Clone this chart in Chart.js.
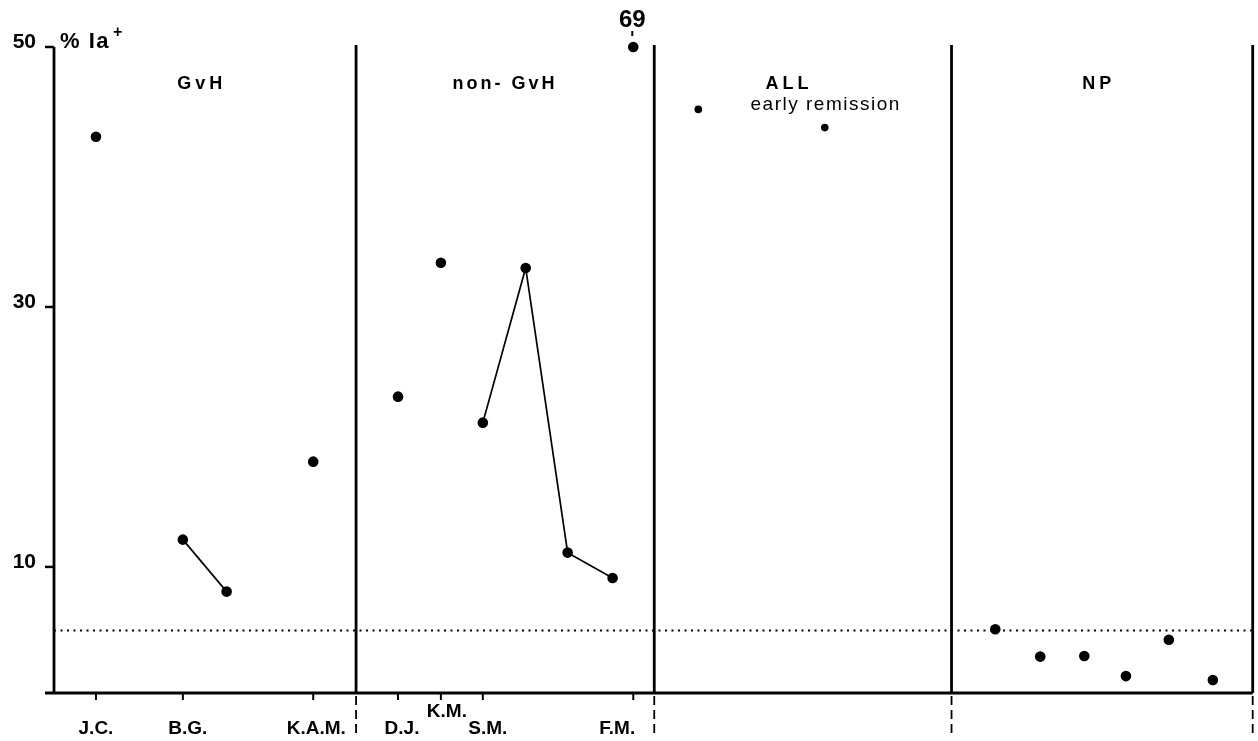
<!DOCTYPE html>
<html>
<head>
<meta charset="utf-8">
<script src="https://cdn.jsdelivr.net/npm/chart.js@4"></script>
<style>
  html, body { margin: 0; padding: 0; background: #fff; }
  canvas { display: block; }
</style>
</head>
<body>
<canvas id="chart" width="1258" height="741"></canvas>
<script>
// patients in the GvH and non-GvH groups, x is in panel units (one panel = 1)
const patients = ['J.C.', 'B.G.', 'K.A.M.', 'D.J.', 'K.M.', 'S.M.', 'F.M.'];
const patientX = [[0.14], [0.43, 0.576], [0.865], [1.148], [1.291], [1.431, 1.574, 1.714, 1.864], [1.933]];
const patientY = [[43.1], [12.1, 8.1], [18.1], [23.1], [33.4], [21.1, 33.0, 11.1, 9.15], [50]];
const offScaleLabel = '69';   // F.M. real value, drawn at the top

const allX = [2.15, 2.572];
const allY = [45.2, 43.8];

const npX = [3.141, 3.291, 3.438, 3.577, 3.72, 3.867];
const npY = [5.2, 3.1, 3.15, 1.6, 4.4, 1.3];

const groups = ['GvH', 'non- GvH', 'ALL', 'NP'];
const subTitle = 'early remission';
const panelEdges = [1.008, 2.003, 2.995, 4];
const cutoff = 5.1;
const yTicks = [10, 30, 50];
const yLabel = '% Ia';

// layout bits (not data)
const titleX = [0.486, 1.5, 2.446, 3.48];
const titleSpacing = [4, 3, 4, 4];
const labelDx = [0, 5, 3, 4, 6, 5, -16];
const FONT = '"Liberation Sans", Arial, sans-serif';

const datasets = [];
patients.forEach((p, i) => {
  datasets.push({
    label: p,
    data: patientX[i].map((x, j) => ({ x: x, y: patientY[i][j] })),
    showLine: patientX[i].length > 1,
    borderColor: '#000',
    borderWidth: 1.7,
    backgroundColor: '#000',
    pointRadius: 5.3,
    pointBorderWidth: 0,
    clip: false
  });
});
datasets.push({
  label: 'ALL',
  data: allX.map((x, j) => ({ x: x, y: allY[j] })),
  backgroundColor: '#000',
  borderColor: '#000',
  pointRadius: 3.8,
  pointBorderWidth: 0
});
datasets.push({
  label: 'NP',
  data: npX.map((x, j) => ({ x: x, y: npY[j] })),
  backgroundColor: '#000',
  borderColor: '#000',
  pointRadius: 5.3,
  pointBorderWidth: 0
});
datasets.push({
  label: 'cutoff',
  data: [{ x: 0, y: cutoff }, { x: 4, y: cutoff }],
  showLine: true,
  borderColor: '#000',
  borderWidth: 2,
  borderDash: [2, 4.5],
  pointRadius: 0
});

const framePlugin = {
  id: 'frame',
  afterDatasetsDraw(chart) {
    const ctx = chart.ctx;
    const xs = chart.scales.x;
    const ys = chart.scales.y;
    const area = chart.chartArea;
    const base = area.bottom;
    const top = ys.getPixelForValue(50);

    ctx.save();
    ctx.strokeStyle = '#000';
    ctx.fillStyle = '#000';
    ctx.lineWidth = 2.8;

    // y axis and baseline
    ctx.beginPath();
    ctx.moveTo(area.left, top);
    ctx.lineTo(area.left, base);
    ctx.moveTo(area.left - 9, base);
    ctx.lineTo(area.right, base);
    ctx.stroke();

    // panel separators, solid above the axis and dashed below it
    panelEdges.forEach(v => {
      const px = xs.getPixelForValue(v);
      ctx.setLineDash([]);
      ctx.lineWidth = 2.8;
      ctx.beginPath();
      ctx.moveTo(px, top - 2);
      ctx.lineTo(px, base);
      ctx.stroke();
      ctx.setLineDash([9, 5]);
      ctx.lineWidth = 1.8;
      ctx.beginPath();
      ctx.moveTo(px, base + 3);
      ctx.lineTo(px, base + 45);
      ctx.stroke();
    });
    ctx.setLineDash([]);
    ctx.lineWidth = 2.5;

    // y ticks and labels
    ctx.font = 'bold 21px ' + FONT;
    ctx.textAlign = 'right';
    ctx.textBaseline = 'alphabetic';
    yTicks.forEach(t => {
      const py = ys.getPixelForValue(t);
      ctx.beginPath();
      ctx.moveTo(area.left - 9, py);
      ctx.lineTo(area.left, py);
      ctx.stroke();
      ctx.fillText(String(t), area.left - 18, py + 1);
    });

    // y axis title
    ctx.textAlign = 'left';
    ctx.font = 'bold 22px ' + FONT;
    ctx.letterSpacing = '1.5px';
    ctx.fillText(yLabel, area.left + 6, top + 1);
    const w = ctx.measureText(yLabel).width;
    ctx.letterSpacing = '0px';
    ctx.font = 'bold 16px ' + FONT;
    ctx.fillText('+', area.left + 9 + w, top - 10);

    // x ticks and patient labels
    ctx.lineWidth = 2;
    ctx.font = 'bold 19px ' + FONT;
    ctx.textAlign = 'center';
    patients.forEach((p, i) => {
      const px = xs.getPixelForValue(patientX[i][0]);
      ctx.beginPath();
      ctx.moveTo(px, base);
      ctx.lineTo(px, base + 7);
      ctx.stroke();
      const ly = p === 'K.M.' ? base + 24 : base + 41;
      ctx.fillText(p, px + labelDx[i], ly);
    });

    // off-scale value for F.M.
    const fm = patients.length - 1;
    const fx = xs.getPixelForValue(patientX[fm][0]);
    ctx.font = 'bold 24px ' + FONT;
    ctx.fillText(offScaleLabel, fx - 1, 27);
    ctx.lineWidth = 2;
    ctx.beginPath();
    ctx.moveTo(fx - 1, 31);
    ctx.lineTo(fx - 1, 36);
    ctx.stroke();

    // group titles
    ctx.font = 'bold 18px ' + FONT;
    groups.forEach((g, i) => {
      ctx.letterSpacing = titleSpacing[i] + 'px';
      ctx.fillText(g, xs.getPixelForValue(titleX[i]) + titleSpacing[i] / 2, 89);
    });
    ctx.letterSpacing = '1.5px';
    ctx.font = '19px ' + FONT;
    ctx.fillText(subTitle, xs.getPixelForValue(2.575), 110);
    ctx.restore();
  }
};

new Chart(document.getElementById('chart').getContext('2d'), {
  type: 'scatter',
  data: { datasets: datasets },
  options: {
    responsive: false,
    animation: false,
    layout: { padding: { left: 54, right: 2, top: 47, bottom: 48 } },
    plugins: { legend: { display: false }, tooltip: { enabled: false } },
    scales: {
      x: { type: 'linear', min: 0, max: 4, display: false },
      y: { type: 'linear', min: 0.3, max: 50, display: false }
    }
  },
  plugins: [framePlugin]
});
</script>
</body>
</html>
